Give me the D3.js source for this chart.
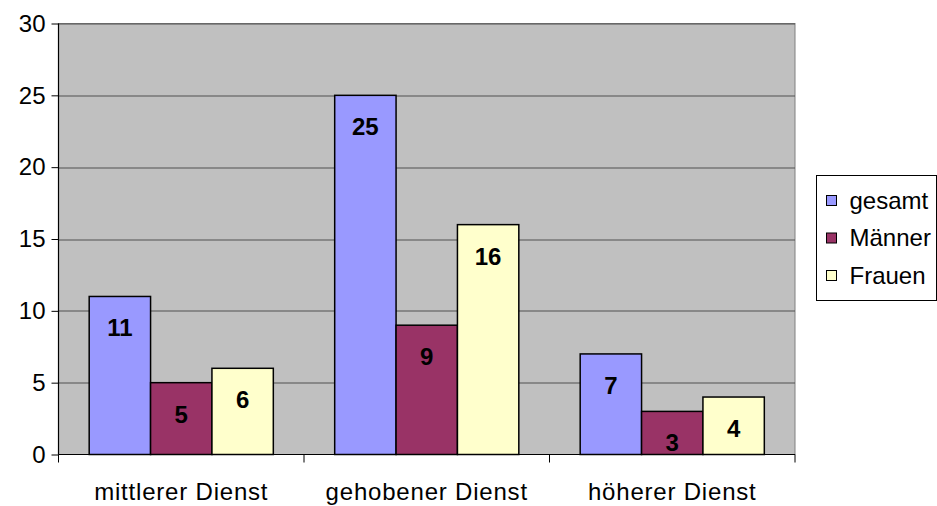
<!DOCTYPE html>
<html>
<head>
<meta charset="utf-8">
<script src="https://cdn.jsdelivr.net/npm/d3@7"></script>
<style>
  body { margin: 0; background: #fff; }
  text { font-family: "Liberation Sans", Arial, sans-serif; }
</style>
</head>
<body>
<div class="chart"></div>
<script>
// DATA ------------------------------

const categories = ["mittlerer Dienst", "gehobener Dienst", "höherer Dienst"];
const seriesNames = ["gesamt", "Männer", "Frauen"];
const gesamt = [11, 25, 7];
const maenner = [5, 9, 3];
const frauen = [6, 16, 4];
const yTicks = [0, 5, 10, 15, 20, 25, 30];

const colors = ["#9999FF", "#993366", "#FFFFCC"];

// CHART INIT ------------------------

const totalWidth = 937;
const totalHeight = 506;
const margin = { top: 23.5, left: 58.5, right: 142, bottom: 51.5 };
const width = totalWidth - margin.left - margin.right,
  height = totalHeight - margin.top - margin.bottom;

const svg = d3
  .select(".chart")
  .append("svg")
  .attr("width", totalWidth)
  .attr("height", totalHeight)
  .append("g")
  .attr("transform", "translate(" + margin.left + "," + margin.top + ")");

const xScale = d3.scaleBand().domain(categories).range([0, width]).paddingInner(0).paddingOuter(0);
const xInner = d3.scaleBand().domain(seriesNames).range([xScale.bandwidth() / 8, xScale.bandwidth() * 7 / 8]);
const yScale = d3.scaleLinear().domain([0, 30]).range([height, 0]);

// plot background
svg.append("rect")
  .attr("width", width)
  .attr("height", height)
  .attr("fill", "#C0C0C0")
  .attr("stroke", "#808080")
  .attr("stroke-width", 1);

// gridlines
svg.selectAll(".grid")
  .data(yTicks.slice(1))
  .enter()
  .append("line")
  .attr("x1", 0)
  .attr("x2", width)
  .attr("y1", d => Math.round(yScale(d)) + 0.5)
  .attr("y2", d => Math.round(yScale(d)) + 0.5)
  .attr("stroke", "#505050")
  .attr("stroke-width", 1.2);

// bars
const rows = categories.map((c, i) => ({
  category: c,
  values: [gesamt[i], maenner[i], frauen[i]]
}));

const groups = svg.selectAll(".group")
  .data(rows)
  .enter()
  .append("g")
  .attr("transform", d => `translate(${xScale(d.category)},0)`);

groups.selectAll("rect")
  .data(d => d.values.map((v, j) => ({ name: seriesNames[j], value: v, color: colors[j] })))
  .enter()
  .append("rect")
  .attr("x", d => xInner(d.name))
  .attr("y", d => yScale(d.value))
  .attr("width", xInner.bandwidth())
  .attr("height", d => height - yScale(d.value))
  .attr("fill", d => d.color)
  .attr("stroke", "#000")
  .attr("stroke-width", 1.5);

groups.selectAll(".label")
  .data(d => d.values.map((v, j) => ({ name: seriesNames[j], value: v })))
  .enter()
  .append("text")
  .attr("x", d => xInner(d.name) + xInner.bandwidth() / 2)
  .attr("y", d => yScale(d.value) + 40)
  .attr("text-anchor", "middle")
  .attr("font-size", "24px")
  .attr("font-weight", "bold")
  .attr("fill", "#000")
  .text(d => d.value);

// axes
const yAxis = d3.axisLeft(yScale).tickValues(yTicks).tickSize(7).tickPadding(6);
svg.append("g")
  .attr("class", "axis y-axis")
  .call(yAxis)
  .call(g => g.selectAll("text").attr("font-size", "24px").attr("fill", "#000").style("font-family", "'Liberation Sans', Arial, sans-serif"))
  .call(g => g.select(".domain").remove())
  .call(g => g.selectAll("line").attr("stroke", "#000"));

svg.append("line")
  .attr("x1", 0).attr("x2", 0)
  .attr("y1", 0).attr("y2", height)
  .attr("stroke", "#000").attr("stroke-width", 1.2);

const xAxis = d3.axisBottom(xScale).tickSize(0).tickPadding(28);
svg.append("g")
  .attr("class", "axis x-axis")
  .attr("transform", `translate(0, ${height})`)
  .call(xAxis)
  .call(g => g.select(".domain").remove())
  .call(g => g.selectAll("text")
    .attr("font-size", "24px")
    .attr("letter-spacing", "0.8px")
    .attr("fill", "#000")
    .style("font-family", "'Liberation Sans', Arial, sans-serif"));

svg.append("line")
  .attr("x1", 0).attr("x2", width)
  .attr("y1", height).attr("y2", height)
  .attr("stroke", "#000").attr("stroke-width", 1.2);

// category separators on x axis
const bounds = categories.map(c => xScale(c)).concat([width]);
svg.selectAll(".xtick")
  .data(bounds)
  .enter()
  .append("line")
  .attr("x1", d => d).attr("x2", d => d)
  .attr("y1", height).attr("y2", height + 8)
  .attr("stroke", "#000");

// legend
const legend = d3.select(".chart svg").append("g")
  .attr("transform", "translate(816.5,175.5)");

legend.append("rect")
  .attr("width", 120)
  .attr("height", 125)
  .attr("fill", "#fff")
  .attr("stroke", "#000");

const items = legend.selectAll(".item")
  .data(seriesNames)
  .enter()
  .append("g")
  .attr("transform", (d, i) => `translate(10,${20 + i * 37.5})`);

items.append("rect")
  .attr("width", 10)
  .attr("height", 10)
  .attr("fill", (d, i) => colors[i])
  .attr("stroke", "#000");

items.append("text")
  .attr("x", 23)
  .attr("y", 13)
  .attr("font-size", "24px")
  .attr("fill", "#000")
  .text(d => d);
</script>
</body>
</html>
